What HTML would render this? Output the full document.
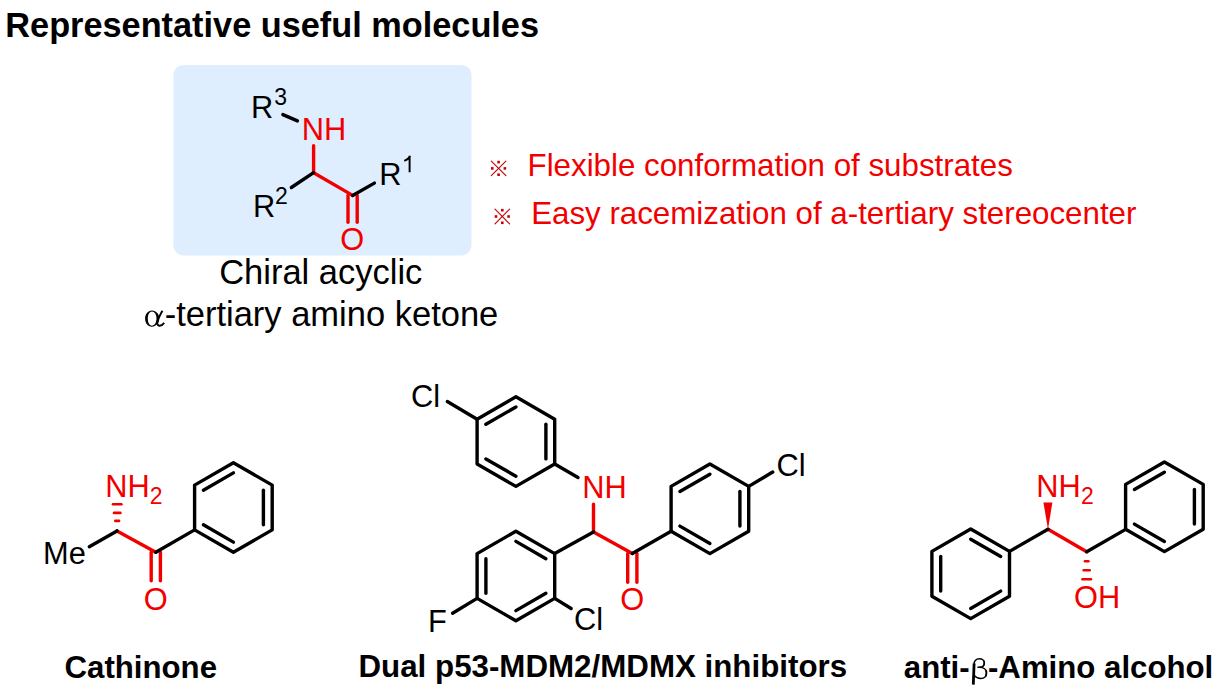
<!DOCTYPE html>
<html><head><meta charset="utf-8"><title>Representative useful molecules</title>
<style>
html,body{margin:0;padding:0;background:#fff;}
body{width:1221px;height:694px;overflow:hidden;position:relative;font-family:"Liberation Sans", sans-serif;}
svg{position:absolute;left:0;top:0;}
line,polyline,polygon{stroke-linecap:round;stroke-linejoin:round;}
</style></head><body>
<svg width="1221" height="694" viewBox="0 0 1221 694">
<text x="5.31" y="37.00" font-family='"Liberation Sans", sans-serif' font-size="34.3" font-weight="bold" fill="#000000" >Representative useful molecules</text>
<rect x="173.4" y="64.9" width="298.1" height="190.5" rx="10" ry="10" fill="#DFEEFF"/>
<line x1="282.88" y1="114.60" x2="297.42" y2="120.90" stroke="#000000" stroke-width="3.4"/>
<text x="251.07" y="117.50" font-family='"Liberation Sans", sans-serif' font-size="30.8" font-weight="normal" fill="#000000" >R</text>
<text x="274.32" y="104.80" font-family='"Liberation Sans", sans-serif' font-size="23" font-weight="normal" fill="#000000" >3</text>
<text x="301.77" y="139.90" font-family='"Liberation Sans", sans-serif' font-size="30.8" font-weight="normal" fill="#F20000" >NH</text>
<line x1="313.60" y1="145.80" x2="313.60" y2="172.70" stroke="#F20000" stroke-width="3.4"/>
<line x1="313.60" y1="172.70" x2="352.60" y2="195.40" stroke="#F20000" stroke-width="3.4"/>
<line x1="348.00" y1="195.40" x2="348.00" y2="222.30" stroke="#F20000" stroke-width="3.4"/>
<line x1="357.20" y1="195.40" x2="357.20" y2="222.30" stroke="#F20000" stroke-width="3.4"/>
<line x1="313.60" y1="172.70" x2="291.35" y2="187.47" stroke="#000000" stroke-width="3.4"/>
<line x1="352.60" y1="195.40" x2="374.39" y2="183.14" stroke="#000000" stroke-width="3.4"/>
<text x="340.34" y="249.60" font-family='"Liberation Sans", sans-serif' font-size="30.8" font-weight="normal" fill="#F20000" >O</text>
<text x="252.97" y="216.80" font-family='"Liberation Sans", sans-serif' font-size="30.8" font-weight="normal" fill="#000000" >R</text>
<text x="275.04" y="204.20" font-family='"Liberation Sans", sans-serif' font-size="23" font-weight="normal" fill="#000000" >2</text>
<text x="379.17" y="184.60" font-family='"Liberation Sans", sans-serif' font-size="30.8" font-weight="normal" fill="#000000" >R</text>
<path d="M409.6,172.2 L409.6,155.8 M410.2,155.9 C408.8,158.4 406.7,159.9 404.3,160.8" fill="none" stroke="#000" stroke-width="1.95" stroke-linecap="butt"/>
<text x="219.15" y="283.90" font-family='"Liberation Sans", sans-serif' font-size="34.5" font-weight="normal" fill="#000000" >Chiral acyclic</text>
<path d="M152.0,310.4 C147.9,310.4 145.1,314.0 145.1,318.6 C145.1,323.3 147.9,326.8 151.8,326.8 C155.9,326.8 159.3,323.3 159.3,318.6 C159.3,314.0 156.2,310.4 152.0,310.4 Z M152.0,311.5 C149.6,311.5 147.8,314.6 147.8,318.6 C147.8,322.8 149.5,325.7 151.9,325.7 C154.5,325.7 156.5,322.8 156.5,318.6 C156.5,314.6 154.6,311.5 152.0,311.5 Z" fill="#000" fill-rule="evenodd"/>
<path d="M162.4,310.7 C160.8,313.6 158.6,317.6 157.6,320.6 C156.9,322.9 157.3,325.6 159.2,325.8 C161.0,326.0 162.8,324.6 164.2,322.8" fill="none" stroke="#000" stroke-width="1.9" stroke-linecap="butt"/>
<text x="164.67" y="326.20" font-family='"Liberation Sans", sans-serif' font-size="34.5" font-weight="normal" fill="#000000" >-tertiary amino ketone</text>
<line x1="491.30" y1="161.10" x2="505.90" y2="175.70" stroke="#C80008" stroke-width="1.15" stroke-linecap="butt"/>
<line x1="505.90" y1="161.10" x2="491.30" y2="175.70" stroke="#C80008" stroke-width="1.15" stroke-linecap="butt"/>
<rect x="497.30" y="160.80" width="2.6" height="2.6" fill="#C80008"/>
<rect x="491.00" y="167.10" width="2.6" height="2.6" fill="#C80008"/>
<rect x="503.60" y="167.10" width="2.6" height="2.6" fill="#C80008"/>
<rect x="497.30" y="173.40" width="2.6" height="2.6" fill="#C80008"/>
<text x="527.53" y="176.30" font-family='"Liberation Sans", sans-serif' font-size="31.3" font-weight="normal" fill="#F20000" >Flexible conformation of substrates</text>
<line x1="495.00" y1="209.20" x2="509.60" y2="223.80" stroke="#C80008" stroke-width="1.15" stroke-linecap="butt"/>
<line x1="509.60" y1="209.20" x2="495.00" y2="223.80" stroke="#C80008" stroke-width="1.15" stroke-linecap="butt"/>
<rect x="501.00" y="208.90" width="2.6" height="2.6" fill="#C80008"/>
<rect x="494.70" y="215.20" width="2.6" height="2.6" fill="#C80008"/>
<rect x="507.30" y="215.20" width="2.6" height="2.6" fill="#C80008"/>
<rect x="501.00" y="221.50" width="2.6" height="2.6" fill="#C80008"/>
<text x="531.13" y="224.30" font-family='"Liberation Sans", sans-serif' font-size="31.3" font-weight="normal" fill="#F20000" >Easy racemization of a-tertiary stereocenter</text>
<polygon points="233.40,462.70 272.20,485.10 272.20,529.90 233.40,552.30 194.60,529.90 194.60,485.10" fill="none" stroke="#000000" stroke-width="3.4"/>
<line x1="203.40" y1="490.18" x2="233.40" y2="472.86" stroke="#000000" stroke-width="3.4"/>
<line x1="263.40" y1="490.18" x2="263.40" y2="524.82" stroke="#000000" stroke-width="3.4"/>
<line x1="233.40" y1="542.14" x2="203.40" y2="524.82" stroke="#000000" stroke-width="3.4"/>
<line x1="117.00" y1="530.90" x2="155.80" y2="552.30" stroke="#F20000" stroke-width="3.4"/>
<line x1="151.20" y1="552.30" x2="151.20" y2="580.70" stroke="#F20000" stroke-width="3.4"/>
<line x1="160.40" y1="552.30" x2="160.40" y2="580.70" stroke="#F20000" stroke-width="3.4"/>
<line x1="155.80" y1="552.30" x2="194.60" y2="529.90" stroke="#000000" stroke-width="3.4"/>
<line x1="117.00" y1="530.90" x2="89.30" y2="546.66" stroke="#000000" stroke-width="3.4"/>
<text x="143.84" y="609.90" font-family='"Liberation Sans", sans-serif' font-size="30.8" font-weight="normal" fill="#F20000" >O</text>
<text x="43.07" y="564.40" font-family='"Liberation Sans", sans-serif' font-size="30.8" font-weight="normal" fill="#000000" >Me</text>
<text x="105.37" y="497.00" font-family='"Liberation Sans", sans-serif' font-size="30.8" font-weight="normal" fill="#F20000" >NH</text>
<text x="149.84" y="503.80" font-family='"Liberation Sans", sans-serif' font-size="23" font-weight="normal" fill="#F20000" >2</text>
<line x1="113.00" y1="504.3" x2="121.40" y2="504.3" stroke="#F20000" stroke-width="2.6"/>
<line x1="114.00" y1="512.9" x2="120.40" y2="512.9" stroke="#F20000" stroke-width="2.6"/>
<line x1="115.30" y1="520.9" x2="119.10" y2="520.9" stroke="#F20000" stroke-width="2.6"/>
<text x="64.52" y="677.60" font-family='"Liberation Sans", sans-serif' font-size="31.2" font-weight="bold" fill="#000000" >Cathinone</text>
<polygon points="515.90,396.80 554.70,419.20 554.70,464.00 515.90,486.40 477.10,464.00 477.10,419.20" fill="none" stroke="#000000" stroke-width="3.4"/>
<line x1="485.90" y1="424.28" x2="515.90" y2="406.96" stroke="#000000" stroke-width="3.4"/>
<line x1="545.90" y1="424.28" x2="545.90" y2="458.92" stroke="#000000" stroke-width="3.4"/>
<line x1="515.90" y1="476.24" x2="485.90" y2="458.92" stroke="#000000" stroke-width="3.4"/>
<polygon points="515.90,531.20 554.70,553.60 554.70,598.40 515.90,620.80 477.10,598.40 477.10,553.60" fill="none" stroke="#000000" stroke-width="3.4"/>
<line x1="515.90" y1="541.36" x2="545.90" y2="558.68" stroke="#000000" stroke-width="3.4"/>
<line x1="485.90" y1="593.32" x2="485.90" y2="558.68" stroke="#000000" stroke-width="3.4"/>
<line x1="545.90" y1="593.32" x2="515.90" y2="610.64" stroke="#000000" stroke-width="3.4"/>
<polygon points="709.90,464.00 748.70,486.40 748.70,531.20 709.90,553.60 671.10,531.20 671.10,486.40" fill="none" stroke="#000000" stroke-width="3.4"/>
<line x1="679.90" y1="491.48" x2="709.90" y2="474.16" stroke="#000000" stroke-width="3.4"/>
<line x1="739.90" y1="491.48" x2="739.90" y2="526.12" stroke="#000000" stroke-width="3.4"/>
<line x1="709.90" y1="543.44" x2="679.90" y2="526.12" stroke="#000000" stroke-width="3.4"/>
<line x1="477.10" y1="419.20" x2="447.29" y2="401.56" stroke="#000000" stroke-width="3.4"/>
<text x="410.94" y="407.30" font-family='"Liberation Sans", sans-serif' font-size="30.8" font-weight="normal" fill="#000000" >Cl</text>
<line x1="554.70" y1="464.00" x2="578.00" y2="477.55" stroke="#000000" stroke-width="3.4"/>
<text x="582.27" y="497.90" font-family='"Liberation Sans", sans-serif' font-size="30.8" font-weight="normal" fill="#F20000" >NH</text>
<line x1="593.50" y1="504.10" x2="593.50" y2="531.90" stroke="#F20000" stroke-width="3.4"/>
<line x1="593.50" y1="531.90" x2="632.30" y2="553.50" stroke="#F20000" stroke-width="3.4"/>
<line x1="627.70" y1="553.50" x2="627.70" y2="582.30" stroke="#F20000" stroke-width="3.4"/>
<line x1="636.90" y1="553.50" x2="636.90" y2="582.30" stroke="#F20000" stroke-width="3.4"/>
<line x1="593.50" y1="531.90" x2="554.70" y2="553.60" stroke="#000000" stroke-width="3.4"/>
<line x1="632.30" y1="553.50" x2="671.10" y2="531.20" stroke="#000000" stroke-width="3.4"/>
<text x="620.34" y="609.90" font-family='"Liberation Sans", sans-serif' font-size="30.8" font-weight="normal" fill="#F20000" >O</text>
<line x1="748.70" y1="486.40" x2="772.71" y2="472.07" stroke="#000000" stroke-width="3.4"/>
<text x="776.44" y="476.00" font-family='"Liberation Sans", sans-serif' font-size="30.8" font-weight="normal" fill="#000000" >Cl</text>
<line x1="477.10" y1="598.40" x2="452.58" y2="613.22" stroke="#000000" stroke-width="3.4"/>
<text x="427.97" y="632.10" font-family='"Liberation Sans", sans-serif' font-size="30.8" font-weight="normal" fill="#000000" >F</text>
<line x1="554.70" y1="598.40" x2="571.12" y2="608.51" stroke="#000000" stroke-width="3.4"/>
<text x="574.04" y="630.00" font-family='"Liberation Sans", sans-serif' font-size="30.8" font-weight="normal" fill="#000000" >Cl</text>
<text x="358.51" y="676.60" font-family='"Liberation Sans", sans-serif' font-size="31.3" font-weight="bold" fill="#000000" >Dual p53-MDM2/MDMX inhibitors</text>
<polygon points="970.70,529.00 1009.50,551.40 1009.50,596.20 970.70,618.60 931.90,596.20 931.90,551.40" fill="none" stroke="#000000" stroke-width="3.4"/>
<line x1="970.70" y1="539.16" x2="1000.70" y2="556.48" stroke="#000000" stroke-width="3.4"/>
<line x1="940.70" y1="591.12" x2="940.70" y2="556.48" stroke="#000000" stroke-width="3.4"/>
<line x1="1000.70" y1="591.12" x2="970.70" y2="608.44" stroke="#000000" stroke-width="3.4"/>
<polygon points="1164.40,462.00 1203.20,484.40 1203.20,529.20 1164.40,551.60 1125.60,529.20 1125.60,484.40" fill="none" stroke="#000000" stroke-width="3.4"/>
<line x1="1134.40" y1="489.48" x2="1164.40" y2="472.16" stroke="#000000" stroke-width="3.4"/>
<line x1="1194.40" y1="489.48" x2="1194.40" y2="524.12" stroke="#000000" stroke-width="3.4"/>
<line x1="1164.40" y1="541.44" x2="1134.40" y2="524.12" stroke="#000000" stroke-width="3.4"/>
<line x1="1048.00" y1="529.20" x2="1086.70" y2="551.80" stroke="#F20000" stroke-width="3.4"/>
<line x1="1048.00" y1="529.20" x2="1009.50" y2="551.40" stroke="#000000" stroke-width="3.4"/>
<line x1="1086.70" y1="551.80" x2="1125.60" y2="529.40" stroke="#000000" stroke-width="3.4"/>
<polygon points="1048.00,529.20 1043.40,502.4 1052.40,502.4" fill="#F20000"/>
<text x="1036.37" y="496.90" font-family='"Liberation Sans", sans-serif' font-size="30.8" font-weight="normal" fill="#F20000" >NH</text>
<text x="1081.04" y="503.60" font-family='"Liberation Sans", sans-serif' font-size="23" font-weight="normal" fill="#F20000" >2</text>
<line x1="1085.00" y1="561.2" x2="1088.40" y2="561.2" stroke="#F20000" stroke-width="2.6"/>
<line x1="1083.70" y1="570.3" x2="1089.70" y2="570.3" stroke="#F20000" stroke-width="2.6"/>
<line x1="1082.45" y1="579.3" x2="1090.95" y2="579.3" stroke="#F20000" stroke-width="2.6"/>
<text x="1073.94" y="607.60" font-family='"Liberation Sans", sans-serif' font-size="30.8" font-weight="normal" fill="#F20000" >OH</text>
<text x="903.79" y="677.60" font-family='"Liberation Sans", sans-serif' font-size="31.2" font-weight="bold" fill="#000000" >anti-</text>
<path d="M974.0,664.5 C974.2,660.4 976.4,658.7 979.4,658.7 C982.4,658.7 984.4,660.6 984.4,663.0 C984.4,665.4 982.6,667.2 979.4,667.3 L977.4,667.3" fill="none" stroke="#000" stroke-width="1.5" stroke-linecap="butt" stroke-linejoin="round"/>
<path d="M979.4,667.3 C984.2,667.3 986.6,670.0 986.6,673.0 C986.6,676.3 984.2,678.5 980.8,678.5 C978.0,678.5 975.8,677.4 974.2,675.4" fill="none" stroke="#000" stroke-width="1.5" stroke-linecap="butt"/>
<path d="M974.1,663.5 L973.3,684.6" fill="none" stroke="#000" stroke-width="2.8" stroke-linecap="butt"/>
<path d="M983.9,661.0 C984.5,662.5 984.5,664.0 983.6,665.6 M985.9,670.2 C986.5,672.2 986.5,674.4 985.6,676.2" fill="none" stroke="#000" stroke-width="1.4" stroke-linecap="round"/>
<text x="987.98" y="677.60" font-family='"Liberation Sans", sans-serif' font-size="31.2" font-weight="bold" fill="#000000" >-Amino alcohol</text>
</svg>
</body></html>
